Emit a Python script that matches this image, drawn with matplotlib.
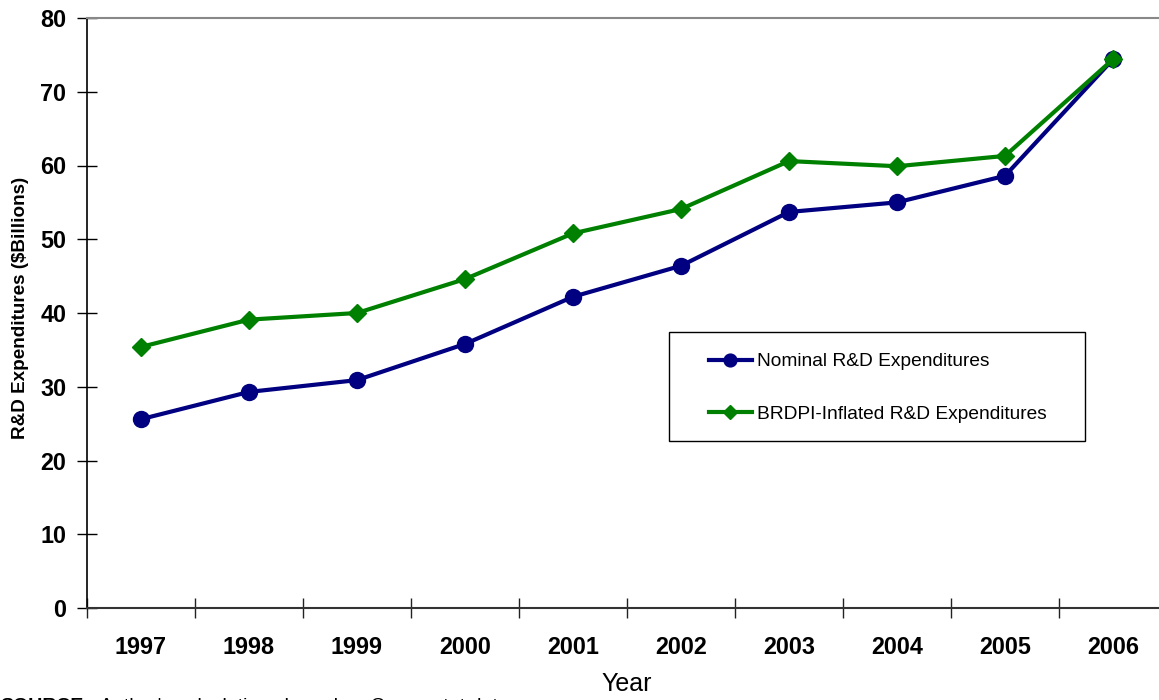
import matplotlib
matplotlib.use("Agg")
import matplotlib.pyplot as plt
from matplotlib.patches import Rectangle
import numpy as np

plt.rcParams['font.family'] = ['Liberation Sans', 'DejaVu Sans']

years = ['1997', '1998', '1999', '2000', '2001', '2002', '2003', '2004', '2005', '2006']
nominal = [25.6, 29.3, 30.9, 35.8, 42.2, 46.4, 53.7, 55.0, 58.6, 74.4]
brdpi = [35.4, 39.1, 40.0, 44.6, 50.8, 54.1, 60.6, 59.9, 61.3, 74.4]

W, H = 1159, 700
fig = plt.figure(figsize=(W / 100, H / 100), dpi=100)
ax = fig.add_axes([87 / W, 1 - 608 / H, 1080 / W, 590 / H])

x = np.arange(len(years))
ax.plot(x, nominal, color='#000080', lw=3, marker='o', markersize=11.5,
        label='Nominal R&D Expenditures', zorder=3)
ax.plot(x, brdpi, color='#008000', lw=3, marker='D', markersize=9,
        label='BRDPI-Inflated R&D Expenditures', zorder=4)

ax.set_xlim(-0.5, len(years) - 0.5)
ax.set_ylim(0, 80)
ax.set_yticks(np.arange(0, 81, 10))
ax.set_xticks(x)
ax.set_xticklabels(years)
ax.set_xticks(np.arange(-0.5, len(years)), minor=True)

ax.tick_params(axis='x', which='major', length=0, pad=20, labelsize=16.8)
ax.tick_params(axis='x', which='minor', length=14, direction='inout', width=1, color='#222222')
ax.tick_params(axis='y', length=14, direction='inout', width=1, pad=8, labelsize=16.8)
for lab in ax.get_xticklabels() + ax.get_yticklabels():
    lab.set_fontweight('bold')

ax.spines['right'].set_visible(False)
ax.spines['top'].set_color('#888888')
ax.spines['top'].set_linewidth(1.5)
ax.spines['left'].set_color('black')
ax.spines['left'].set_linewidth(1.2)
ax.spines['bottom'].set_color('#333333')
ax.spines['bottom'].set_linewidth(1.5)

ax.set_ylabel('R&D Expenditures ($Billions)', fontsize=13.6, fontweight='bold')
ax.yaxis.set_label_coords(29 / W, 1 - 308 / H, transform=fig.transFigure)
fig.text(627 / W, 1 - 684 / H, 'Year', fontsize=18, ha='center', va='center')

# legend entries without frame, box drawn separately behind them
leg = ax.legend(loc='upper left', bbox_to_anchor=(709 / W, 1 - 353 / H),
                bbox_transform=fig.transFigure, frameon=False, fontsize=13.8,
                labelspacing=1.82, borderpad=0, handlelength=2.24,
                handletextpad=0.26, borderaxespad=0, markerscale=0.8)
leg.set_zorder(6)
box = Rectangle((669 / W, 1 - 441 / H), (1085 - 669) / W, (441 - 332) / H,
                transform=fig.transFigure, facecolor='white', edgecolor='black',
                lw=1.0, zorder=5, clip_on=False)
ax.add_patch(box)

fig.text(0.0, -11 / H, "SOURCE:", fontsize=14, fontweight='bold', ha='left', va='baseline')
fig.text(100 / W, -11 / H, "Author's calculations based on Compustat data",
         fontsize=14, ha='left', va='baseline')

fig.savefig('out.png', dpi=100)
